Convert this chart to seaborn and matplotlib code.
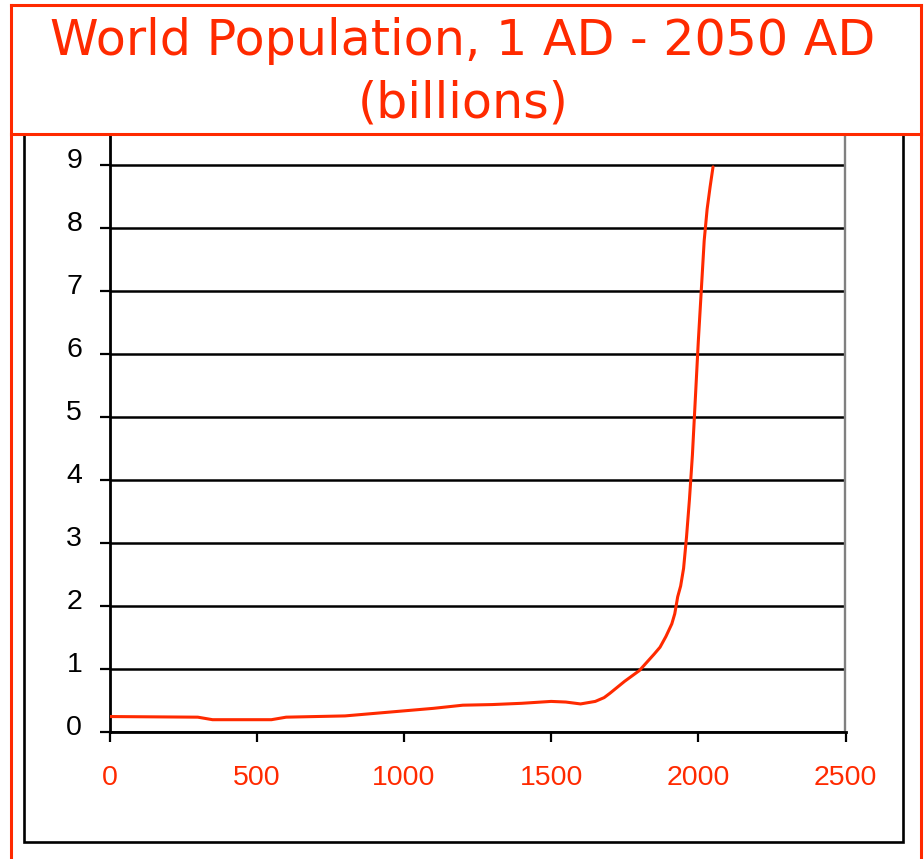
import matplotlib
matplotlib.use("Agg")
import matplotlib.pyplot as plt
import matplotlib.transforms as mtrans
from matplotlib.lines import Line2D
from matplotlib.patches import Rectangle
import seaborn as sns
import pandas as pd

# ---- data ----
years = [1, 300, 350, 550, 600, 800, 900, 1000, 1100, 1200, 1300, 1400, 1500,
         1550, 1600, 1650, 1680, 1700, 1750, 1800, 1850, 1870, 1890, 1900,
         1910, 1920, 1930, 1940, 1950, 1960, 1970, 1980, 1990, 2000, 2010,
         2020, 2030, 2040, 2050]
population = [0.25, 0.24, 0.20, 0.20, 0.24, 0.26, 0.30, 0.34, 0.38, 0.43, 0.44,
              0.46, 0.49, 0.48, 0.45, 0.49, 0.55, 0.62, 0.81, 0.98, 1.24, 1.35,
              1.52, 1.62, 1.72, 1.88, 2.15, 2.32, 2.60, 3.10, 3.70, 4.40, 5.30,
              6.20, 7.00, 7.80, 8.30, 8.65, 8.97]
x_ticks = [0, 500, 1000, 1500, 2000, 2500]
y_ticks = [0, 1, 2, 3, 4, 5, 6, 7, 8, 9]
title_line1 = "World Population, 1 AD - 2050 AD"
title_line2 = "(billions)"

RED = "#ff2a00"

df = pd.DataFrame({"year": years, "population": population})

sns.set_theme(style="white")
plt.rcParams["font.family"] = ["Liberation Sans", "DejaVu Sans"]

W, H = 924, 859
fig = plt.figure(figsize=(W / 100, H / 100), dpi=100)
fig.patch.set_facecolor("white")


def fx(px):
    return px / W


def fy(py):
    return 1 - py / H


ax = fig.add_axes([fx(109.5), fy(732.3), fx(845.5) - fx(109.5), fy(136) - fy(732.3)])
ax.set_facecolor("white")

sns.lineplot(data=df, x="year", y="population", ax=ax, color=RED, lw=2.2,
             zorder=3, estimator=None)

ax.set_xlim(0, 2500)
ax.set_ylim(0, 9.46)
ax.set_xticks(x_ticks)
ax.set_yticks(y_ticks)
ax.set_xticklabels([str(v) for v in x_ticks])
ax.set_yticklabels([str(v) for v in y_ticks])
ax.set_xlabel("")
ax.set_ylabel("")

ax.grid(False)
ax.yaxis.grid(True, color="black", lw=1.8)
ax.set_axisbelow(True)

ax.spines["top"].set_visible(False)
for s in ("left", "bottom"):
    ax.spines[s].set_color("black")
    ax.spines[s].set_linewidth(2.0)
ax.spines["right"].set_color("#808080")
ax.spines["right"].set_linewidth(1.7)

ax.tick_params(axis="x", bottom=True, direction="out", length=7.2, width=1.6,
               color="black", labelcolor=RED, labelsize=20.5, pad=16)
ax.tick_params(axis="y", left=True, direction="out", length=7.2, width=1.6,
               color="black", labelcolor="black", labelsize=20.5, pad=12.5)

offset = mtrans.ScaledTranslation(0, 7 / 100, fig.dpi_scale_trans)
for lab in ax.get_yticklabels():
    lab.set_transform(lab.get_transform() + offset)

# inner black frame
fig.add_artist(Rectangle((fx(24), fy(842)), fx(903) - fx(24), fy(134) - fy(842),
                         fill=False, ec="black", lw=1.9,
                         transform=fig.transFigure, zorder=5))

# red outer frame and title box
red_lines = [
    ((11, 5), (11, 862)),
    ((921, 5), (921, 862)),
    ((11, 5), (921, 5)),
    ((11, 134), (921, 134)),
]
for (x0, y0), (x1, y1) in red_lines:
    fig.add_artist(Line2D([fx(x0), fx(x1)], [fy(y0), fy(y1)], color=RED, lw=2.2,
                          transform=fig.transFigure, zorder=6,
                          solid_capstyle="projecting"))

fig.text(fx(463), fy(55), title_line1, ha="center", va="baseline",
         fontsize=35.4, color=RED, family="DejaVu Sans")
fig.text(fx(463), fy(117), title_line2, ha="center", va="baseline",
         fontsize=35.4, color=RED, family="DejaVu Sans")

fig.savefig("out.png", dpi=100, facecolor="white")
